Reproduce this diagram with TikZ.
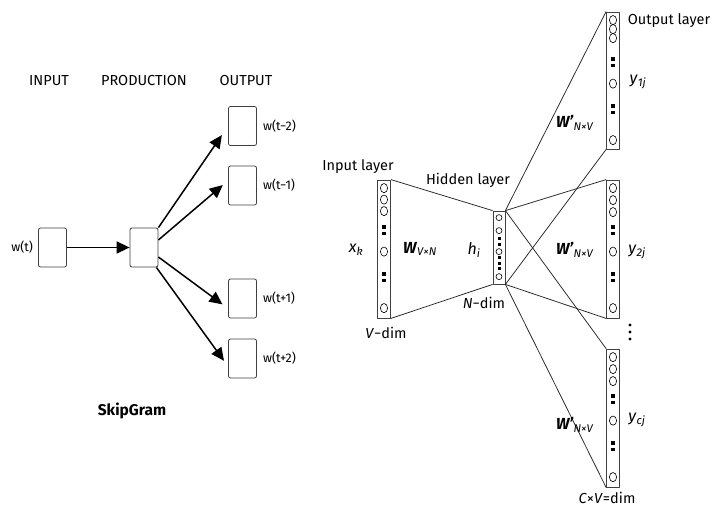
\documentclass[tikz,border=0pt]{standalone}
\usepackage{fontspec}
\setmainfont{Fira Sans}
\usetikzlibrary{calc}
\usetikzlibrary{arrows.meta}

\tikzset{
  lbl/.style={font=\fontsize{14.5}{16}\selectfont, inner sep=0pt},
  sym/.style={font=\fontsize{16}{18}\selectfont, inner sep=0pt},
  small/.style={font=\fontsize{12.5}{14}\selectfont, inner sep=0pt},
  wordbox/.style={draw=black!75, line width=0.8pt, rounded corners=2pt,
    minimum width=28pt, minimum height=39pt, inner sep=0pt},
  layer/.style={draw=black!75, line width=0.8pt, minimum width=13pt, inner sep=0pt},
  flow/.style={line width=1.5pt, -{Triangle[length=13pt,width=12pt]}, shorten >=7pt},
  wire/.style={line width=0.75pt, black!85},
}

% units of a layer: three circles, dots, circle, dots, circle
\newcommand{\layerunits}[2]{%
  \foreach \d in {#2}
    \draw[line width=0.6pt] ($(#1.north)+(0,\d)$) ellipse [x radius=3.6pt, y radius=4.6pt];
  \foreach \d in {47.5,54,94.5,101}
    \fill ($(#1.north)+(0,\d)$) +(-1.7,-1.7) rectangle +(1.7,1.7);
  \draw[line width=0.6pt] ($(#1.north)+(0,72)$) ellipse [x radius=3.6pt, y radius=4.6pt];
  \draw[line width=0.6pt] ($(#1.north)+(0,128.5)$) ellipse [x radius=3.6pt, y radius=4.6pt];
}

\begin{document}
\begin{tikzpicture}[x=1pt, y=-1pt, line join=round]
  \path[fill=white] (0,0) rectangle (714,512);

  % ---- skip-gram sketch ----
  \node[lbl] at (49,81) {INPUT};
  \node[lbl] at (144,81) {PRODUCTION};
  \node[lbl] at (246,81) {OUTPUT};

  \node[wordbox, label={[small, xshift=-5pt]left:w(t)}] (win) at (52.5,247.5) {};
  \node[wordbox] (prod) at (144,247.5) {};
  \node[wordbox, label={[small, xshift=6pt]right:w(t−2)}] (o1) at (242.5,126) {};
  \node[wordbox, label={[small, xshift=6pt]right:w(t−1)}] (o2) at (242.5,185.5) {};
  \node[wordbox, label={[small, xshift=6pt]right:w(t+1)}] (o3) at (242.5,298.5) {};
  \node[wordbox, label={[small, xshift=6pt]right:w(t+2)}] (o4) at (242.5,358.5) {};

  \draw[flow, shorten >=0pt] (win.east) -- (prod.west);
  \draw[flow, shorten >=11pt] (prod.north east) -- (o1.west);
  \draw[flow] ($(prod.east)+(0,-7.5)$) -- ($(o2.west)+(0,-5)$);
  \draw[flow] ($(prod.east)+(0,9.5)$) -- ($(o3.west)+(0,10)$);
  \draw[flow] ($(prod.south east)+(-2,0)$) -- ($(o4.west)+(0,8)$);

  \node[font=\bfseries\fontsize{15.5}{18}\selectfont] (title) at (132,411) {SkipGram};

  % ---- word2vec network ----
  \node[layer, minimum height=138pt] (inl) at (384,249) {};
  \node[layer, minimum width=12pt, minimum height=73pt] (hid) at (499,247.5) {};
  \node[layer, minimum height=137pt] (y1) at (613,80.5) {};
  \node[layer, minimum height=138pt] (y2) at (613,249) {};
  \node[layer, minimum height=138pt] (yc) at (613,418) {};

  \layerunits{inl}{8.5,20,31.5}
  \layerunits{y1}{8.5,17.5,26.5}
  \layerunits{y2}{8.5,20.5,32.5}
  \layerunits{yc}{8.5,20.5,32.5}

  % hidden units
  \foreach \d in {7,20,41,66}
    \draw[line width=0.6pt] ($(hid.north)+(0,\d)$) circle [radius=3pt];
  \foreach \d in {28,34,47,52.5,58}
    \fill ($(hid.north)+(0,\d)$) +(-1.5,-1.5) rectangle +(1.5,1.5);

  \draw[wire] (inl.north east) -- (hid.north west);
  \draw[wire] (inl.south east) -- (hid.south west);
  \foreach \o in {y1,y2,yc} {
    \draw[wire] (hid.north east) -- (\o.north west);
    \draw[wire] (hid.south east) -- (\o.south west);
  }

  \node[lbl] at (358,167) {Input layer};
  \node[lbl] at (468,180) {Hidden layer};
  \node[lbl] at (669,21) {Output layer};
  \node[sym] at (356,250) {\textit{x}\textsubscript{\textit{k}}};
  \node[sym] at (420,249) {\textbf{\textit{W}}\textsubscript{\textit{V×N}}};
  \node[sym] at (474,250) {\textit{h}\textsubscript{\textit{i}}};
  \node[lbl] at (484,303) {\textit{N}−dim};
  \node[lbl] at (386,333) {\textit{V}−dim};
  \node[lbl] at (607,498) {\textit{C}×\textit{V}=dim};
  \node[sym] at (638,82) {\textit{y}\textsubscript{\textit{1j}}};
  \node[sym] at (637,252) {\textit{y}\textsubscript{\textit{2j}}};
  \node[sym] at (637,420) {\textit{y}\textsubscript{\textit{cj}}};
  \foreach \yy in {123,250,425}
    \node[sym] at (575,\yy) {\textbf{\textit{W'}}\textsubscript{\textit{N×V}}};

  % more output panels
  \foreach \yy in {325,332,339}
    \fill (630,\yy) circle [radius=1.7pt];
\end{tikzpicture}
\end{document}
